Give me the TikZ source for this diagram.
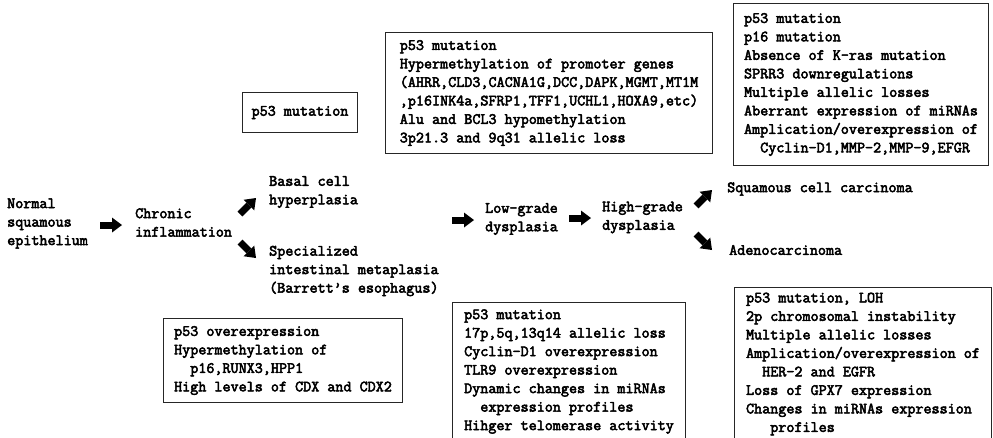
\documentclass[tikz,border=0pt]{standalone}
\usepackage{fontspec}
\newfontfamily\reffont{Latin Modern Mono}[FakeBold=3.2]
\usetikzlibrary{arrows.meta}
\begin{document}
\frenchspacing
\begin{tikzpicture}[x=1pt,y=-1pt,
  every node/.style={font=\reffont\fontsize{15.66}{18.5}\selectfont, inner sep=0pt},
  lbl/.style={anchor=west, align=left},
  box/.style={draw=black!85, line width=1pt, anchor=north west, align=left, inner sep=0pt},
  fat/.style={line width=7pt, -{Triangle[length=10pt,width=15pt,line width=0pt]}}]
\useasboundingbox (0,0) rectangle (993,437);
\clip (0,0) rectangle (993,437);
\fill[white] (0,0) rectangle (993,437);

% stage labels
\node[lbl] (normal) at (7,223.5) {Normal\\squamous\\epithelium};
\node[lbl] (chronic) at (135,222.5) {Chronic\\inflammation};
\node[lbl] (basal) at (269,192) {Basal cell\\hyperplasia};
\node[lbl] (special) at (269,271) {Specialized\\intestinal metaplasia\\(Barrett’s esophagus)};
\node[lbl] (low) at (485,219) {Low-grade\\dysplasia};
\node[lbl] (high) at (602,217.5) {High-grade\\dysplasia};
\node[lbl] (squam) at (727,189) {Squamous cell carcinoma};
\node[lbl] (adeno) at (729,250) {Adenocarcinoma};

% arrows
\coordinate (a1s) at (100,225);   \coordinate (a1e) at (122,225);
\coordinate (a2s) at (240,214);   \coordinate (a2e) at (256,198);
\coordinate (a3s) at (240,242);   \coordinate (a3e) at (256,258);
\coordinate (a4s) at (452,220);   \coordinate (a4e) at (474,220);
\coordinate (a5s) at (569,218);   \coordinate (a5e) at (591,218);
\coordinate (a6s) at (696,206);   \coordinate (a6e) at (712,190);
\coordinate (a7s) at (696,234);   \coordinate (a7e) at (712,250);
\foreach \i in {1,...,7} {\draw[fat] (a\i s) -- (a\i e);}

% boxes
\node[box, minimum width=115pt, minimum height=40pt] (b1) at (242,92) {p53 mutation};
\node[box, minimum width=327pt, minimum height=121pt] (b2) at (385,32)
  {p53 mutation\\Hypermethylation of promoter genes\\(AHRR,CLD3,CACNA1G,DCC,DAPK,MGMT,MT1M\\,p16INK4a,SFRP1,TFF1,UCHL1,HOXA9,etc)\\Alu and BCL3 hypomethylation\\3p21.3 and 9q31 allelic loss};
\node[box, minimum width=255pt, minimum height=162pt] (b3) at (733,3)
  {p53 mutation\\p16 mutation\\Absence of K-ras mutation\\SPRR3 downregulations\\Multiple allelic losses\\Aberrant expression of miRNAs\\Amplication/overexpression of\\~~Cyclin-D1,MMP-2,MMP-9,EFGR};
\node[box, minimum width=239pt, minimum height=84pt] (b4) at (163,318)
  {p53 overexpression\\Hypermethylation of\\~~p16,RUNX3,HPP1\\High levels of CDX and CDX2};
\node[box, minimum width=233pt, minimum height=138pt] (b5) at (452,302)
  {p53 mutation\\17p,5q,13q14 allelic loss\\Cyclin-D1 overexpression\\TLR9 overexpression\\Dynamic changes in miRNAs\\~~expression profiles\\Hihger telomerase activity};
\node[box, minimum width=257pt, minimum height=153pt] (b6) at (734,287)
  {p53 mutation, LOH\\2p chromosomal instability\\Multiple allelic losses\\Amplication/overexpression of\\~~HER-2 and EGFR\\Loss of GPX7 expression\\Changes in miRNAs expression\\~~~profiles};
\end{tikzpicture}
\end{document}
